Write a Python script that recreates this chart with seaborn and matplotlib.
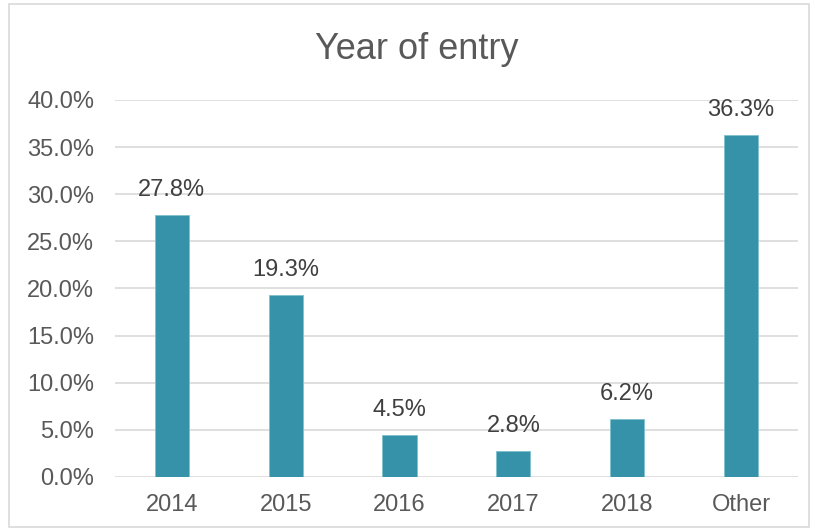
import matplotlib
matplotlib.use("Agg")
import matplotlib.pyplot as plt
from matplotlib.patches import Rectangle
from matplotlib.ticker import PercentFormatter, MultipleLocator
import seaborn as sns
import pandas as pd

categories = ["2014", "2015", "2016", "2017", "2018", "Other"]
shares = [27.8, 19.3, 4.5, 2.8, 6.2, 36.3]
value_labels = ["27.8%", "19.3%", "4.5%", "2.8%", "6.2%", "36.3%"]

df = pd.DataFrame({"year": categories, "share": [v / 100 for v in shares]})

sns.set_theme(style="white")
plt.rcParams["font.family"] = ["Liberation Sans", "DejaVu Sans"]

fig = plt.figure(figsize=(8.15, 5.31), dpi=100)
ax = fig.add_axes([0.141, 0.1017, 0.838, 0.71])

sns.barplot(data=df, x="year", y="share", color="#3592A8", saturation=1,
            width=0.3, ax=ax, edgecolor="#7fc0cf", linewidth=0.6, zorder=3)

ax.set_ylim(0, 0.4)
ax.yaxis.set_major_locator(MultipleLocator(0.05))
ax.yaxis.set_major_formatter(PercentFormatter(1.0, decimals=1))
ax.grid(axis="y", color="#d9d9d9", linewidth=1.2, zorder=0)
ax.set_axisbelow(True)
for s in ax.spines.values():
    s.set_visible(False)
ax.tick_params(axis="both", length=0, labelsize=17, colors="#595959")
ax.tick_params(axis="y", pad=15)
ax.tick_params(axis="x", pad=12)
ax.set_xlabel("")
ax.set_ylabel("")

for bar, txt in zip(ax.patches, value_labels):
    ax.annotate(txt, (bar.get_x() + bar.get_width() / 2, bar.get_height()),
                xytext=(0, 10), textcoords="offset points", ha="center",
                va="bottom", fontsize=17, color="#404040")

fig.text(0.511, 0.906, "Year of entry", ha="center", va="center",
         fontsize=26, color="#595959")

fig.patches.append(Rectangle((0.011, 0.008), 0.982, 0.985, transform=fig.transFigure,
                             fill=False, edgecolor="#d9d9d9", linewidth=1.2))

fig.savefig("out.png", dpi=100)
